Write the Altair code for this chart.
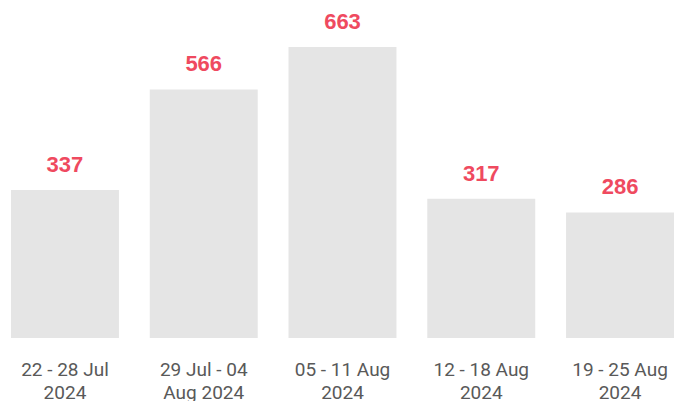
import altair as alt
import pandas as pd

weeks = ["22 - 28 Jul\n2024", "29 Jul - 04\nAug 2024", "05 - 11 Aug\n2024", "12 - 18 Aug\n2024", "19 - 25 Aug\n2024"]
counts = [337, 566, 663, 317, 286]

df = pd.DataFrame({"week": weeks, "count": counts})

base = alt.Chart(df).encode(
    x=alt.X("week:N", sort=weeks, title=None,
            scale=alt.Scale(paddingInner=0.222, paddingOuter=0),
            axis=alt.Axis(labelAngle=0, domain=False, ticks=False, labelPadding=22,
                          labelExpr="split(datum.label, '\\n')", labelFont="Roboto",
                          labelFontSize=19, labelColor="#595959", labelLineHeight=23,
                          labelBaseline="top")),
    y=alt.Y("count:Q", title=None, scale=alt.Scale(domain=[0, 747], nice=False),
            axis=None),
)

bars = base.mark_bar(color="#e5e5e5")
labels = base.mark_text(dy=-18, baseline="alphabetic", font="Liberation Sans",
                        fontWeight="bold", fontSize=22, color="#ef4a5f").encode(text="count:Q")

chart = (bars + labels).properties(
    width=663, height=328,
    autosize=alt.AutoSizeParams(type="none"),
    padding={"left": 3, "top": 2, "right": 5, "bottom": 63},
).configure_view(stroke=None)

chart.save("out.html", embed_options={"renderer": "svg", "actions": False})
